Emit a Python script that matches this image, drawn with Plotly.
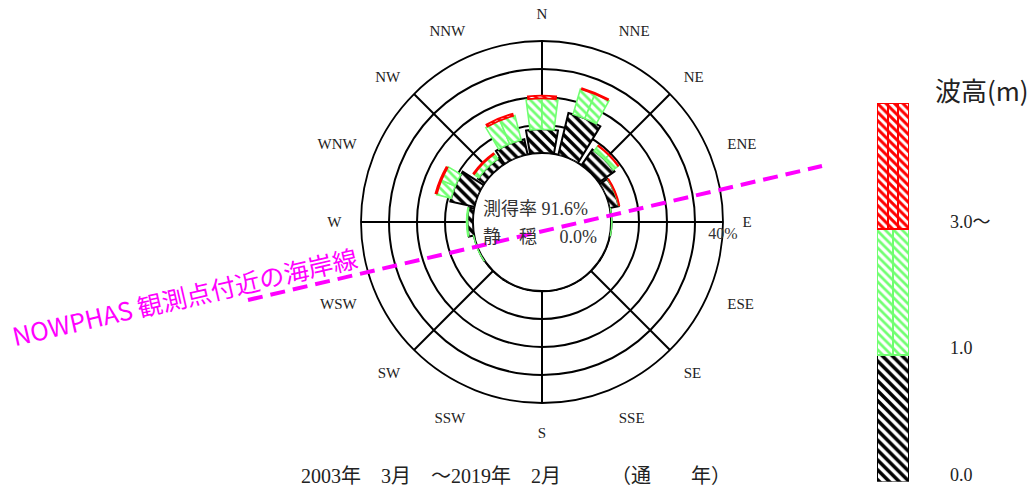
import math
import plotly.graph_objects as go

# ---------------- data ----------------
DIRECTIONS = ["N", "NNE", "NE", "ENE", "E", "ESE", "SE", "SSE",
              "S", "SSW", "SW", "WSW", "W", "WNW", "NW", "NNW"]
DIR_DEG = [i * 22.5 for i in range(16)]
# frequency (%) by wave height class
H_0_1 = [8.5, 15.4, 6.9, 3.3, 0.2, 0.1, 0.1, 0.1, 0.1, 0.1, 0.1, 0.2, 2.0, 8.9, 2.9, 5.6]
H_1_3 = [11.0, 9.4, 2.2, 0.2, 0.05, 0.0, 0.0, 0.0, 0.0, 0.0, 0.0, 0.05, 0.3, 5.35, 2.1, 9.0]
H_3P = [1.0, 0.4, 0.2, 0.1, 0.0, 0.0, 0.0, 0.0, 0.0, 0.0, 0.0, 0.0, 0.0, 0.5, 0.4, 0.8]
RING_VALUES = [10, 20, 30]
RMAX = 40
LEGEND_LABELS = ["0.0", "1.0", "3.0～"]
CLASS_NAMES = ["0.0-1.0", "1.0-3.0", "3.0～"]
OBS_RATE = "91.6%"
CALM_RATE = "0.0%"
CAPTION = "2003年　3月　～2019年　2月　　　（通　　年）"

# ---------------- layout geometry ----------------
W, H = 1035, 486
CX, CY = 542, 222
R_OUT, R_IN = 181, 69
BAR_PX = 28
PX_PER = (R_OUT - R_IN) / RMAX

BLACK = "#000000"
GREEN = "#70FF70"
RED = "#FF0000"
SERIF = "Liberation Serif, Noto Sans CJK JP, serif"
CJK = "Noto Sans CJK JP, sans-serif"


def seg_width(base, length):
    rmid = R_IN + PX_PER * (base + length / 2.0)
    return min(22.5, math.degrees(BAR_PX / rmid))


def nonzero(vals, *others):
    idx = [i for i, v in enumerate(vals) if v > 0]
    return [[seq[i] for i in idx] for seq in (vals,) + others]


dom_x = [(CX - R_OUT) / W, (CX + R_OUT) / W]
dom_y = [(H - CY - R_OUT) / H, (H - CY + R_OUT) / H]

fig = go.Figure()

# inner polygon (grid polar)
poly_theta = [d - 11.25 for d in DIR_DEG] + [DIR_DEG[0] - 11.25]
fig.add_trace(go.Scatterpolar(
    r=[0] * len(poly_theta), theta=poly_theta, mode="lines",
    line=dict(color=BLACK, width=2), subplot="polar",
    hoverinfo="skip", showlegend=False))


def pat(color, size, sol):
    return dict(shape="\\", fgcolor=color, fgopacity=1, bgcolor="white",
                size=size, solidity=sol)


# black segments
b_r, b_t = nonzero(H_0_1, DIR_DEG)
fig.add_trace(go.Barpolar(
    r=b_r, theta=b_t, base=[0.0] * len(b_r), width=[seg_width(0, v) for v in b_r],
    subplot="polar2",
    marker=dict(color="white", pattern=pat(BLACK, 7, 0.5), line=dict(color=BLACK, width=2)),
    name=CLASS_NAMES[0], showlegend=False))

# green segments (two columns)
g_r, g_t, g_b = nonzero(H_1_3, DIR_DEG, H_0_1)
g_w = [seg_width(b, v) for b, v in zip(g_b, g_r)]
for k in range(2):
    fig.add_trace(go.Barpolar(
        r=g_r, theta=g_t, base=g_b,
        width=[w / 2 for w in g_w],
        offset=[(-w / 2 if k == 0 else 0.0) for w in g_w],
        subplot="polar2",
        marker=dict(color="white", pattern=pat(GREEN, 6, 0.45), line=dict(color=GREEN, width=1.6)),
        name=CLASS_NAMES[1], showlegend=False))

# red segments
red_base_all = [a + b for a, b in zip(H_0_1, H_1_3)]
rr, rt, rb = nonzero(H_3P, DIR_DEG, red_base_all)
fig.add_trace(go.Barpolar(
    r=rr, theta=rt, base=rb, width=[seg_width(b, v) for b, v in zip(rb, rr)],
    subplot="polar2",
    marker=dict(color="white", pattern=pat(RED, 6, 0.5), line=dict(color=RED, width=1.8)),
    name=CLASS_NAMES[2], showlegend=False))

# ---------------- legend bar ----------------
LEG_COLORS = [BLACK, GREEN, RED]
LEG_COLS = [1, 2, 3]
for i, (col, ncol) in enumerate(zip(LEG_COLORS, LEG_COLS)):
    wcol = 1.0 / ncol
    xs = [-0.5 + wcol * (j + 0.5) for j in range(ncol)]
    fig.add_trace(go.Bar(
        x=xs, y=[1] * ncol, base=[i] * ncol, width=[wcol] * ncol,
        marker=dict(color="white",
                    pattern=pat(col, 7 if i == 0 else 6, 0.5 if i != 1 else 0.45),
                    line=dict(color=col, width=2)),
        xaxis="x", yaxis="y", showlegend=False, hoverinfo="skip"))

polar_common = dict(domain=dict(x=dom_x, y=dom_y), hole=R_IN / R_OUT,
                    bgcolor="rgba(0,0,0,0)")

fig.update_layout(
    width=W, height=H, margin=dict(l=0, r=0, t=0, b=0),
    paper_bgcolor="white", plot_bgcolor="rgba(0,0,0,0)",
    barmode="overlay", bargap=0,
    polar=dict(
        **polar_common,
        angularaxis=dict(rotation=90, direction="clockwise", thetaunit="degrees",
                         tickvals=[0, 45, 90, 135, 180, 225, 270, 315],
                         showticklabels=False, ticks="",
                         showgrid=True, gridcolor=BLACK, gridwidth=1.8,
                         showline=True, linecolor=BLACK, linewidth=1.8),
        radialaxis=dict(range=[0, RMAX], tickvals=RING_VALUES, showgrid=True,
                        gridcolor=BLACK, gridwidth=1.8, showticklabels=False,
                        ticks="", showline=False),
    ),
    polar2=dict(
        **polar_common,
        barmode="overlay", bargap=0,
        angularaxis=dict(rotation=90, direction="clockwise", thetaunit="degrees",
                         tickvals=DIR_DEG, ticktext=DIRECTIONS,
                         showgrid=False, showline=False,
                         ticks="outside", ticklen=16, tickcolor="rgba(0,0,0,0)",
                         tickfont=dict(family=SERIF, size=15, color="#222")),
        radialaxis=dict(range=[0, RMAX], tickvals=[RMAX], ticktext=["40%"],
                        showgrid=False, showline=False, ticks="", angle=0,
                        side="clockwise",
                        tickfont=dict(family=SERIF, size=16, color="#333")),
    ),
    xaxis=dict(domain=[877 / W, 909 / W], range=[-0.5, 0.5], visible=False, fixedrange=True),
    yaxis=dict(domain=[(H - 481.5) / H, (H - 103) / H], range=[0, 3], visible=False, fixedrange=True),
)

annotations = []
for i, lab in enumerate(LEGEND_LABELS):
    annotations.append(dict(x=948 / W, xref="paper", y=i, yref="y", yshift=7,
                            text=lab, showarrow=False, xanchor="left", yanchor="middle",
                            font=dict(family=SERIF, size=18, color="#222")))
annotations.append(dict(x=933 / W, xref="paper", y=(H - 89) / H, yref="paper",
                        text="波高(m)", showarrow=False, xanchor="left", yanchor="middle",
                        font=dict(family=CJK, size=26, color="#222")))
annotations.append(dict(x=481 / W, xref="paper", y=(H - 209) / H, yref="paper",
                        text="測得率 " + OBS_RATE, showarrow=False, xanchor="left",
                        yanchor="middle", font=dict(family=SERIF, size=18, color="#333")))
annotations.append(dict(x=481 / W, xref="paper", y=(H - 237) / H, yref="paper",
                        text="静　穏　 " + CALM_RATE, showarrow=False, xanchor="left",
                        yanchor="middle", font=dict(family=SERIF, size=18, color="#333")))
annotations.append(dict(x=516 / W, xref="paper", y=(H - 476) / H, yref="paper",
                        text=CAPTION, showarrow=False, xanchor="center", yanchor="middle",
                        font=dict(family=SERIF, size=20, color="#222")))
annotations.append(dict(x=184 / W, xref="paper", y=(H - 296) / H, yref="paper",
                        text="NOWPHAS 観測点付近の海岸線", showarrow=False, textangle=-13,
                        xanchor="center", yanchor="middle",
                        font=dict(family=CJK, size=25, color="#FF00FF")))
fig.update_layout(annotations=annotations)

fig.add_shape(type="line", xref="paper", yref="paper",
              x0=248 / W, y0=(H - 300) / H, x1=822 / W, y1=(H - 166) / H,
              line=dict(color="#FF00FF", width=4, dash="15px,8px"), layer="above")

fig.write_html("out.html")
